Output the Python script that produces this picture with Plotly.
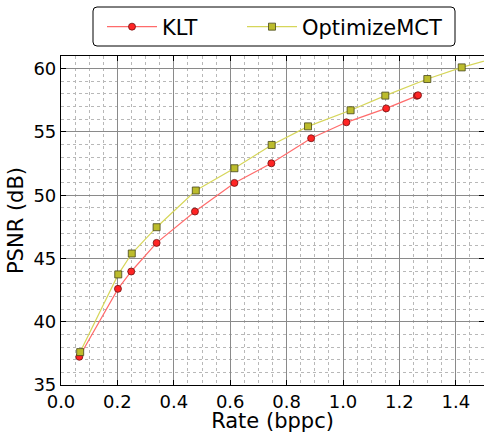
import plotly.graph_objects as go

klt_rate = [0.065, 0.202, 0.249, 0.339, 0.475, 0.615, 0.746, 0.887, 1.012, 1.153, 1.262, 1.266]
klt_psnr = [37.23, 42.6, 43.97, 46.23, 48.71, 50.97, 52.52, 54.5, 55.76, 56.86, 57.85, 57.9]

mct_rate = [0.068, 0.203, 0.251, 0.339, 0.478, 0.615, 0.747, 0.876, 1.027, 1.150, 1.299, 1.421, 1.55]
mct_psnr = [37.6, 43.74, 45.39, 47.47, 50.37, 52.13, 53.97, 55.44, 56.71, 57.87, 59.18, 60.1, 60.9]

x_ticks = [0.0, 0.2, 0.4, 0.6, 0.8, 1.0, 1.2, 1.4]
y_ticks = [35, 40, 45, 50, 55, 60]

FONT = "DejaVu Sans"
W, H = 484, 433
ML, MR, MT, MB = 61, 0, 56, 48
PW, PH = W - ML - MR, H - MT - MB


def px_to_paper_x(px):
    return (px - ML) / PW


def px_to_paper_y(py):
    return 1 - (py - MT) / PH


fig = go.Figure()
fig.add_trace(go.Scatter(
    x=klt_rate, y=klt_psnr, name="KLT", mode="lines+markers", legend="legend",
    showlegend=True,
    line=dict(color="#ff6b6b", width=1.2),
    marker=dict(symbol="circle", size=7, color="#ff2424",
                line=dict(color="#6e1010", width=0.8)),
))
fig.add_trace(go.Scatter(
    x=mct_rate, y=mct_psnr, name="OptimizeMCT", mode="lines+markers", legend="legend2",
    showlegend=True,
    line=dict(color="#d6d65a", width=1.2),
    marker=dict(symbol="square", size=7, color="#bcbc2c",
                line=dict(color="#45451c", width=0.8)),
))

axis_common = dict(
    showline=True, linecolor="black", linewidth=1.2, mirror="ticks",
    ticks="inside", ticklen=5, tickcolor="black", tickwidth=1,
    showgrid=True, gridcolor="#8a8a8a", gridwidth=1,
    zeroline=False,
    tickfont=dict(family=FONT, size=18, color="black"),
)

fig.update_xaxes(
    range=[0, 1.5], tickvals=x_ticks, ticktext=[f"{v:.1f}" for v in x_ticks],
    title=dict(text="Rate (bppc)", font=dict(family=FONT, size=21, color="black"), standoff=1),
    minor=dict(dtick=0.05, tick0=0, showgrid=True, gridcolor="#b8b8b8", griddash="dot", gridwidth=1),
    automargin=True,
    **axis_common,
)
fig.update_yaxes(
    range=[35, 61], tickvals=y_ticks,
    title=dict(text="PSNR (dB)", font=dict(family=FONT, size=21, color="black"), standoff=4),
    minor=dict(dtick=1, tick0=35, showgrid=True, gridcolor="#b8b8b8", griddash="dot", gridwidth=1),
    automargin=False,
    **axis_common,
)

# rounded legend frame
x0, x1 = px_to_paper_x(93), px_to_paper_x(455)
y0, y1 = px_to_paper_y(46), px_to_paper_y(7)
rx, ry = 4 / PW, 4 / PH
path = (f"M{x0+rx},{y0} L{x1-rx},{y0} Q{x1},{y0} {x1},{y0+ry} "
        f"L{x1},{y1-ry} Q{x1},{y1} {x1-rx},{y1} L{x0+rx},{y1} Q{x0},{y1} {x0},{y1-ry} "
        f"L{x0},{y0+ry} Q{x0},{y0} {x0+rx},{y0} Z")
fig.add_shape(type="path", path=path, xref="paper", yref="paper",
              line=dict(color="black", width=1), fillcolor="white", layer="above")

leg_common = dict(
    orientation="h", xanchor="left", yanchor="middle",
    bgcolor="rgba(0,0,0,0)", borderwidth=0,
    font=dict(family=FONT, size=21, color="black"),
    itemwidth=50,
)

fig.update_layout(
    width=W, height=H,
    showlegend=True,
    margin=dict(l=ML, r=MR, t=MT, b=MB, autoexpand=False),
    paper_bgcolor="white", plot_bgcolor="white",
    font=dict(family=FONT, color="black"),
    legend=dict(x=px_to_paper_x(102), y=px_to_paper_y(27), **leg_common),
    legend2=dict(x=px_to_paper_x(242), y=px_to_paper_y(27), **leg_common),
)

fig.write_html("out.html", config={"displayModeBar": False},
               post_script="document.body.style.margin='0px';")
